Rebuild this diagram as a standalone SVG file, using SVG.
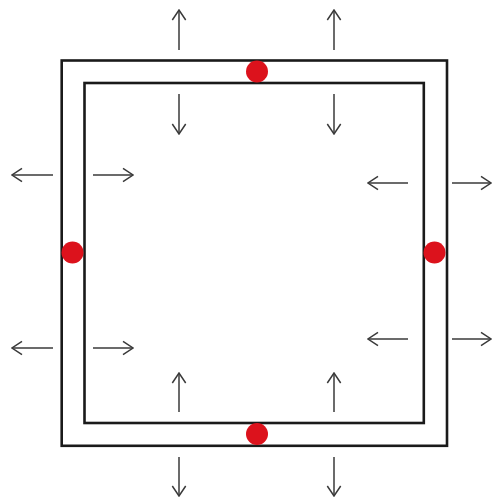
<svg xmlns="http://www.w3.org/2000/svg" width="492" height="499" viewBox="0 0 492 499">
<style>
.wall{fill:none;stroke:#1a1a1a;stroke-width:2.6}
.dot{fill:#dc121c}
.arr{stroke:#3a3a3a;stroke-width:1.5;fill:none;marker-end:url(#ah)}
</style>
<defs>
<marker id="ah" viewBox="0 0 12 16" refX="11" refY="8" markerWidth="12" markerHeight="16" markerUnits="userSpaceOnUse" orient="auto">
<path d="M1,1.3 L11,8 L1,14.7" fill="none" stroke="#3a3a3a" stroke-width="1.5"/>
</marker>
</defs>
<rect width="492" height="499" fill="#ffffff"/>
<g id="outer-wall"><rect class="wall" x="61.7" y="60.5" width="385.3" height="385.3"/></g>
<g id="inner-wall"><rect class="wall" x="84.5" y="83" width="339.3" height="340"/></g>
<g id="dot-top"><circle class="dot" cx="257" cy="71.5" r="11"/></g>
<g id="dot-left"><circle class="dot" cx="72.5" cy="252.5" r="11"/></g>
<g id="dot-right"><circle class="dot" cx="434.5" cy="252.5" r="11"/></g>
<g id="dot-bottom"><circle class="dot" cx="257" cy="434" r="11"/></g>
<g id="connectors">
<line class="arr" x1="179" y1="50" x2="179" y2="10"/>
<line class="arr" x1="334" y1="50" x2="334" y2="10"/>
<line class="arr" x1="179" y1="94" x2="179" y2="134"/>
<line class="arr" x1="334" y1="94" x2="334" y2="134"/>
<line class="arr" x1="179" y1="412" x2="179" y2="373"/>
<line class="arr" x1="334" y1="412" x2="334" y2="373"/>
<line class="arr" x1="179" y1="457" x2="179" y2="496"/>
<line class="arr" x1="334" y1="457" x2="334" y2="496"/>
<line class="arr" x1="53" y1="175" x2="12" y2="175"/>
<line class="arr" x1="53" y1="348" x2="12" y2="348"/>
<line class="arr" x1="93" y1="175" x2="133" y2="175"/>
<line class="arr" x1="93" y1="348" x2="133" y2="348"/>
<line class="arr" x1="408" y1="183" x2="368" y2="183"/>
<line class="arr" x1="408" y1="339" x2="368" y2="339"/>
<line class="arr" x1="452" y1="183" x2="491" y2="183"/>
<line class="arr" x1="452" y1="339" x2="491" y2="339"/>
</g>
</svg>
